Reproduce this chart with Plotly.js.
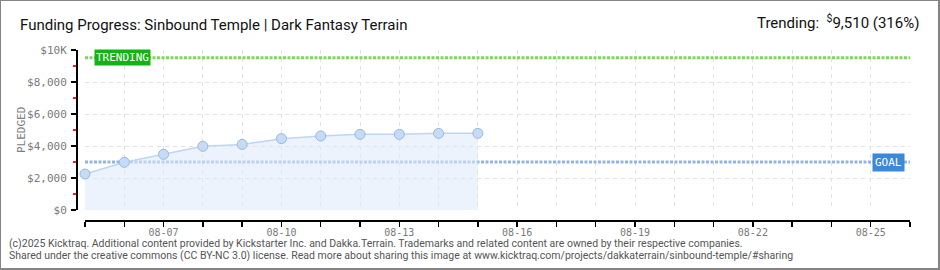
<!DOCTYPE html>
<html><head><meta charset="utf-8">
<script src="https://cdn.plot.ly/plotly-3.0.1.min.js"></script>
<style>
html,body{margin:0;padding:0;background:#fff;}
#wrap{width:940px;height:270px;box-sizing:border-box;border-style:solid;border-color:#858585;border-width:1px 2px 2px 1px;overflow:hidden;}
#chart{width:937px;height:267px;}
</style></head><body>
<div id="wrap"><div id="chart"></div></div>
<script>
const dates = ['2025-08-05','2025-08-06','2025-08-07','2025-08-08','2025-08-09','2025-08-10','2025-08-11','2025-08-12','2025-08-13','2025-08-14','2025-08-15'];
const pledged = [2250, 2980, 3480, 3980, 4100, 4460, 4630, 4730, 4730, 4790, 4790];
const goal = 3000;
const trending = 9510;
const rangeDates = ['2025-08-05','2025-08-26'];
const yTickVals = [0,2000,4000,6000,8000,10000];
const yTickText = ['$0','$2,000','$4,000','$6,000','$8,000','$10K'];
const yMinorVals = [1000,3000,5000,7000,9000];
const titleText = 'Funding Progress: Sinbound Temple | Dark Fantasy Terrain';
const trendText = 'Trending:  <sup>$</sup>9,510 (316%)';
const footer1 = '(c)2025 Kicktraq. Additional content provided by Kickstarter Inc. and Dakka.Terrain. Trademarks and related content are owned by their respective companies.';
const footer2 = 'Shared under the creative commons (CC BY-NC 3.0) license. Read more about sharing this image at www.kicktraq.com/projects/dakkaterrain/sinbound-temple/#sharing';

// pixel geometry helpers
const L=75, R=909, T=49, B=219, W=937, H=267;
const px = x => (x - 1 - L) / (R - L);
const py = y => (B - (y - 1)) / (B - T);

const traces = [
  {x: rangeDates, y: [trending, trending], mode:'lines', line:{color:'#7dd65f', width:3, dash:'3px,1.5px'}, hoverinfo:'skip'},
  {x: rangeDates, y: [goal, goal], mode:'lines', line:{color:'#8fb5e4', width:3, dash:'3px,1.5px'}, hoverinfo:'skip'},
  {x: dates, y: pledged, mode:'lines+markers', fill:'tozeroy', fillcolor:'rgba(220,233,250,0.55)', cliponaxis:false,
   line:{color:'#bcd6f3', width:1.5},
   marker:{size:10, color:'#c6dcf6', line:{color:'#9ab7dc', width:1}}}
];

const tickFont = {family:'DejaVu Sans Mono', size:11, color:'#7a7a7a'};
const layout = {
  width: W, height: H,
  margin: {l:L, r:W-R, t:T, b:H-B, pad:0},
  paper_bgcolor:'#fff', plot_bgcolor:'#fff',
  showlegend:false,
  title: {text: titleText, xref:'container', yref:'container', x:19/W, xanchor:'left', y:1-24/H, yanchor:'middle',
          font:{family:'Roboto', size:15, color:'#111'}},
  xaxis: {
    type:'date', range: rangeDates, domain:[9/(R-L), 1], anchor:'free', position:0,
    showline:true, linecolor:'#000', linewidth:1.5,
    tickmode:'linear', tick0:'2025-08-07', dtick: 3*86400000, tickformat:'%m-%d',
    ticks:'outside', ticklen:5, tickwidth:1.5, tickcolor:'#000', ticklabelstandoff:-3,
    showgrid:true, gridcolor:'#e2e2e2', griddash:'4px,4px', gridwidth:1,
    tickfont: {family:'DejaVu Sans Mono', size:10, color:'#7a7a7a'}, zeroline:false,
    minor:{tickmode:'linear', tick0:'2025-08-05', dtick:86400000, ticks:'outside', ticklen:5, tickwidth:1.5, tickcolor:'#000',
           showgrid:true, gridcolor:'#e2e2e2', griddash:'4px,4px', gridwidth:1}
  },
  yaxis: {
    range:[0,10000], domain:[10/(B-T), 1], anchor:'free', position:0,
    showline:true, linecolor:'#000', linewidth:1.5,
    tickmode:'array', tickvals:yTickVals, ticktext:yTickText,
    ticks:'outside', ticklen:5, tickwidth:1.5, tickcolor:'#000', ticklabelstandoff:2,
    showgrid:true, gridcolor:'#e2e2e2', griddash:'4px,4px', gridwidth:1, zeroline:false,
    tickfont: tickFont,
    minor:{tickmode:'array', tickvals:yMinorVals, ticks:'outside', ticklen:3, tickwidth:2, tickcolor:'#ff1a1a', showgrid:false}
  },
  annotations: [
    {text: trendText, xref:'paper', yref:'paper', x:px(921), y:py(22), xanchor:'right', yanchor:'middle', showarrow:false,
     font:{family:'Roboto', size:15, color:'#111'}},
    {text:'PLEDGED', xref:'paper', yref:'paper', x:px(21), y:py(130), textangle:-90, xanchor:'center', yanchor:'middle', showarrow:false,
     font:{family:'DejaVu Sans Mono', size:11, color:'#808080'}},
    {text:'TRENDING', xref:'paper', yref:'y', x:px(94), y:trending, xanchor:'left', yanchor:'middle', showarrow:false,
     bgcolor:'#13b313', borderpad:1, font:{family:'DejaVu Sans Mono', size:11, color:'#fff'}},
    {text:'GOAL', xref:'paper', yref:'y', x:px(905), y:goal, xanchor:'right', yanchor:'middle', showarrow:false,
     bgcolor:'#3d88d8', borderpad:2, font:{family:'DejaVu Sans Mono', size:11, color:'#fff'}},
    {text: footer1, xref:'paper', yref:'paper', x:px(7), y:py(243), xanchor:'left', yanchor:'middle', showarrow:false,
     font:{family:'Roboto', size:10.5, color:'#555'}},
    {text: footer2, xref:'paper', yref:'paper', x:px(7), y:py(256), xanchor:'left', yanchor:'middle', showarrow:false,
     font:{family:'Roboto', size:10.5, color:'#555'}}
  ]
};
Plotly.newPlot('chart', traces, layout, {staticPlot:true, displayModeBar:false});
</script></body></html>
